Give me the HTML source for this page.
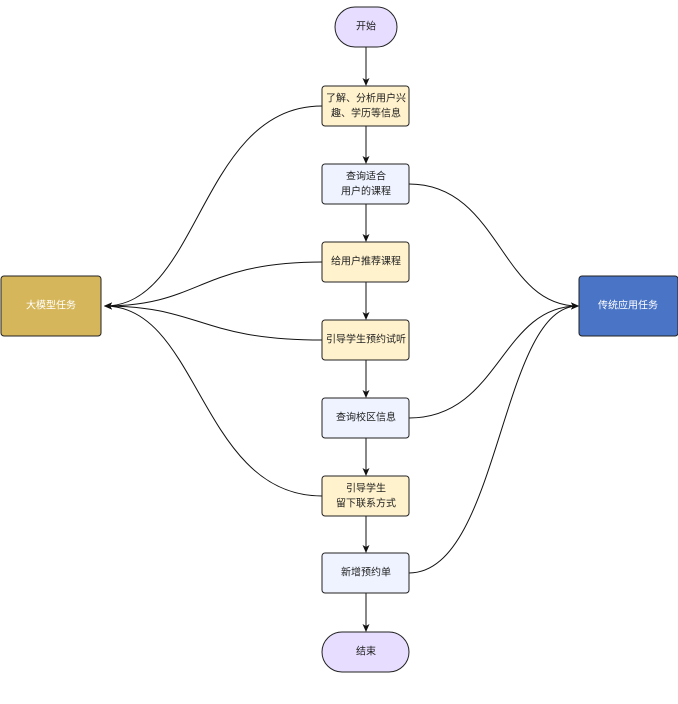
<!DOCTYPE html>
<html><head><meta charset="utf-8"><style>
body{margin:0;background:#fff;}
svg text{font-family:"Liberation Sans","Noto Sans CJK SC",sans-serif;font-size:10px;text-anchor:middle;dominant-baseline:central;fill:#222;}
</style></head><body>
<svg width="678" height="699" viewBox="0 0 678 699" xmlns="http://www.w3.org/2000/svg">
<defs><marker id="a" markerWidth="8" markerHeight="8" refX="7" refY="4" orient="auto" markerUnits="userSpaceOnUse"><path d="M0,0.5 L8,4 L0,7.5 L2,4 Z" fill="#111"/></marker></defs>
<g stroke="#111" stroke-width="1" fill="none" marker-end="url(#a)">
<line x1="366" y1="47" x2="366" y2="85"/>
<line x1="366" y1="126" x2="366" y2="163"/>
<line x1="366" y1="204" x2="366" y2="241"/>
<line x1="366" y1="282" x2="366" y2="319"/>
<line x1="366" y1="360" x2="366" y2="397"/>
<line x1="366" y1="438" x2="366" y2="475"/>
<line x1="366" y1="516" x2="366" y2="552"/>
<line x1="366" y1="593" x2="366" y2="631"/>
<path d="M322,106 C200,106 200,306 105,306"/>
<path d="M322,262 C200,262 200,306 105,306"/>
<path d="M322,340 C200,340 200,306 105,306"/>
<path d="M322,496 C200,496 200,306 105,306"/>
<path d="M409,184 C500,184 500,306 578,306"/>
<path d="M409,418 C500,418 500,306 578,306"/>
<path d="M409,573 C500,573 500,306 578,306"/>
</g>
<g stroke="#222" stroke-width="1">
<rect x="335" y="7" width="62" height="40" rx="20" fill="#e7ddff"/>
<rect x="322" y="86" width="87" height="40" rx="3" fill="#fff2cc"/>
<rect x="322" y="164" width="87" height="40" rx="3" fill="#eef3ff"/>
<rect x="322" y="242" width="87" height="40" rx="3" fill="#fff2cc"/>
<rect x="322" y="320" width="87" height="40" rx="3" fill="#fff2cc"/>
<rect x="322" y="398" width="87" height="40" rx="3" fill="#eef3ff"/>
<rect x="322" y="476" width="87" height="40" rx="3" fill="#fff2cc"/>
<rect x="322" y="553" width="87" height="40" rx="3" fill="#eef3ff"/>
<rect x="322" y="632" width="87" height="40" rx="20" fill="#e7ddff"/>
<rect x="1" y="276" width="100" height="60" rx="3" fill="#d5b65a"/>
<rect x="579" y="276" width="99" height="60" rx="3" fill="#4a74c6"/>
</g>
<text x="366" y="27">开始</text>
<text x="366" y="99">了解、分析用户兴</text>
<text x="366" y="114">趣、学历等信息</text>
<text x="366" y="177">查询适合</text>
<text x="366" y="192">用户的课程</text>
<text x="366" y="262">给用户推荐课程</text>
<text x="366" y="340">引导学生预约试听</text>
<text x="366" y="418">查询校区信息</text>
<text x="366" y="489">引导学生</text>
<text x="366" y="504">留下联系方式</text>
<text x="366" y="573">新增预约单</text>
<text x="366" y="652">结束</text>
<text x="51" y="306" style="fill:#fff">大模型任务</text>
<text x="628" y="306" style="fill:#fff">传统应用任务</text>
</svg>
</body></html>
